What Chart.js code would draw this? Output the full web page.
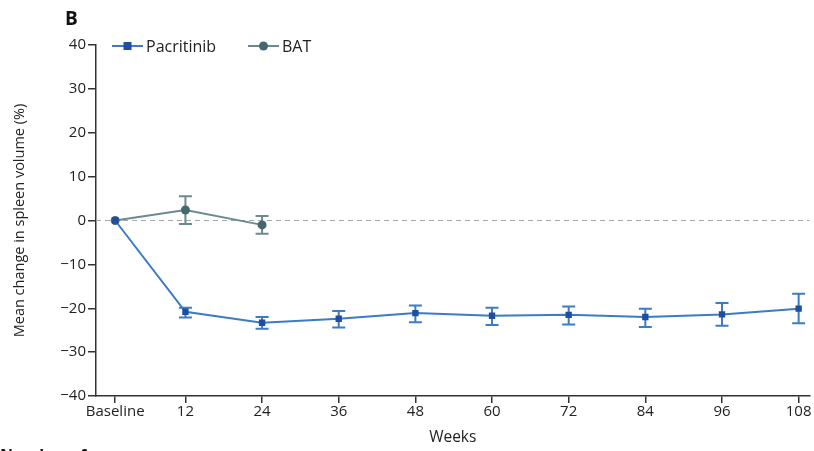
<!DOCTYPE html>
<html>
<head>
<meta charset="utf-8">
<script src="https://cdn.jsdelivr.net/npm/chart.js@4"></script>
<style>
  html, body { margin: 0; padding: 0; background: #fff; }
  #wrap { width: 814px; height: 451px; position: relative; overflow: hidden; }
</style>
</head>
<body>
<div id="wrap"><canvas id="spleenChart" width="814" height="451"></canvas></div>
<script>
// Week categories and where they sit on the week axis (baseline drawn just right of the axis start)
const weekLabels = ['Baseline', '12', '24', '36', '48', '60', '72', '84', '96', '108'];
const weekPositions = [1, 12, 24, 36, 48, 60, 72, 84, 96, 108];

// Pacritinib: mean change and error bar limits (%)
const pacritinibMean = [0, -20.8, -23.3, -22.4, -21.1, -21.7, -21.5, -22.0, -21.4, -20.1];
const pacritinibLower = [0, -22.1, -24.7, -24.4, -23.2, -23.8, -23.7, -24.3, -24.0, -23.4];
const pacritinibUpper = [0, -19.9, -22.0, -20.6, -19.4, -19.9, -19.6, -20.1, -18.8, -16.7];

// BAT: only baseline, 12 and 24 weeks
const batMean = [0, 2.4, -1.0];
const batLower = [0, -0.8, -3.0];
const batUpper = [0, 5.5, 1.0];

const yTickValues = [-40, -30, -20, -10, 0, 10, 20, 30, 40];

const axisColor = '#333';
const pacLine = '#3b7bc8';
const pacMark = '#1e4ea0';
const batLine = '#6a8a90';
const batMark = '#46676d';
const fontFamily = '"Open Sans", "Noto Sans", sans-serif';

function toPoints(means) {
    return means.map((v, i) => ({ x: weekPositions[i], y: v }));
}

// dashed zero line + error bars, drawn under the markers
const errorBarPlugin = {
    id: 'errorBars',
    beforeDatasetsDraw(chart) {
        const { ctx, chartArea, scales } = chart;
        const xs = scales.x, ys = scales.y;
        ctx.save();
        ctx.strokeStyle = '#a3a8ad';
        ctx.lineWidth = 1.2;
        ctx.setLineDash([5, 4]);
        const y0 = ys.getPixelForValue(0);
        ctx.beginPath();
        ctx.moveTo(chartArea.left, y0);
        ctx.lineTo(chartArea.right, y0);
        ctx.stroke();
        ctx.setLineDash([]);

        const bars = [
            { lo: pacritinibLower, hi: pacritinibUpper, color: pacLine },
            { lo: batLower, hi: batUpper, color: batLine }
        ];
        bars.forEach(b => {
            ctx.strokeStyle = b.color;
            ctx.lineWidth = 2;
            b.lo.forEach((lo, i) => {
                const hi = b.hi[i];
                if (lo === hi) return;
                const x = xs.getPixelForValue(weekPositions[i]);
                const yl = ys.getPixelForValue(lo);
                const yh = ys.getPixelForValue(hi);
                ctx.beginPath();
                ctx.moveTo(x, yl); ctx.lineTo(x, yh);
                ctx.moveTo(x - 6.5, yl); ctx.lineTo(x + 6.5, yl);
                ctx.moveTo(x - 6.5, yh); ctx.lineTo(x + 6.5, yh);
                ctx.stroke();
            });
        });
        ctx.restore();
    },
    afterDraw(chart) {
        const { ctx } = chart;
        ctx.save();
        // panel letter
        ctx.fillStyle = '#111';
        ctx.font = 'bold 19px ' + fontFamily;
        ctx.textBaseline = 'middle';
        ctx.textAlign = 'left';
        ctx.fillText('B', 65, 20);

        // legend inside the plot
        const items = [
            { label: 'Pacritinib', line: pacLine, mark: pacMark, x: 112, style: 'rect' },
            { label: 'BAT', line: batLine, mark: batMark, x: 248, style: 'circle' }
        ];
        const ly = 46;
        items.forEach(it => {
            ctx.strokeStyle = it.line;
            ctx.lineWidth = 2;
            ctx.beginPath();
            ctx.moveTo(it.x, ly); ctx.lineTo(it.x + 31, ly);
            ctx.stroke();
            ctx.fillStyle = it.mark;
            if (it.style === 'rect') {
                ctx.fillRect(it.x + 11.5, ly - 4, 8, 8);
            } else {
                ctx.beginPath();
                ctx.arc(it.x + 15.5, ly, 4.5, 0, Math.PI * 2);
                ctx.fill();
            }
            ctx.fillStyle = '#222';
            ctx.font = '16px ' + fontFamily;
            ctx.fillText(it.label, it.x + 34, ly + 1);
        });

        // top of the next caption line, cut off by the page edge
        ctx.font = 'bold 16px ' + fontFamily;
        ctx.fillStyle = '#111';
        ctx.textBaseline = 'top';
        ctx.fillText('Number of', 0, 448);
        ctx.restore();
    }
};

const config = {
    type: 'line',
    data: {
        datasets: [
            {
                label: 'Pacritinib',
                data: toPoints(pacritinibMean),
                borderColor: pacLine,
                borderWidth: 2,
                pointStyle: 'rect',
                pointRadius: 4.5,
                pointBackgroundColor: pacMark,
                pointBorderColor: pacMark,
                pointBorderWidth: 0,
                tension: 0
            },
            {
                label: 'BAT',
                data: toPoints(batMean),
                borderColor: batLine,
                borderWidth: 2,
                pointStyle: 'circle',
                pointRadius: 4.5,
                pointBackgroundColor: batMark,
                pointBorderColor: batMark,
                pointBorderWidth: 0,
                tension: 0
            }
        ]
    },
    options: {
        responsive: false,
        animation: false,
        events: [],
        layout: { padding: { top: 45, right: 3, left: 0, bottom: 0 } },
        plugins: {
            legend: { display: false },
            tooltip: { enabled: false }
        },
        scales: {
            x: {
                type: 'linear',
                min: -2,
                max: 109.7,
                afterBuildTicks(scale) {
                    scale.ticks = weekPositions.map(v => ({ value: v }));
                },
                afterFit(scale) { scale.height = 55; },
                ticks: {
                    color: '#222',
                    font: { family: fontFamily, size: 15 },
                    padding: 0,
                    maxRotation: 0,
                    autoSkip: false,
                    callback: (value) => weekLabels[weekPositions.indexOf(value)]
                },
                grid: {
                    drawOnChartArea: false,
                    drawTicks: true,
                    tickLength: 7,
                    color: axisColor,
                    lineWidth: 1.5
                },
                border: { display: true, color: axisColor, width: 1.5 },
                title: {
                    display: true,
                    text: 'Weeks',
                    color: '#222',
                    font: { family: fontFamily, size: 15.5 },
                    padding: { top: 8 }
                }
            },
            y: {
                min: -40,
                max: 40,
                afterBuildTicks(scale) {
                    scale.ticks = yTickValues.map(v => ({ value: v }));
                },
                afterFit(scale) { scale.width = 96; },
                ticks: {
                    color: '#222',
                    font: { family: fontFamily, size: 15 },
                    padding: 2,
                    callback: (value) => value < 0 ? '\u2212' + Math.abs(value) : String(value)
                },
                grid: {
                    drawOnChartArea: false,
                    drawTicks: true,
                    tickLength: 8,
                    color: axisColor,
                    lineWidth: 1.5
                },
                border: { display: true, color: axisColor, width: 1.5 },
                title: {
                    display: true,
                    text: 'Mean change in spleen volume (%)',
                    color: '#222',
                    font: { family: fontFamily, size: 14.5 },
                    padding: { top: 11, bottom: 0 }
                }
            }
        }
    },
    plugins: [errorBarPlugin]
};

window.onload = () => {
    const ctx = document.getElementById('spleenChart').getContext('2d');
    new Chart(ctx, config);
};
</script>
</body>
</html>
